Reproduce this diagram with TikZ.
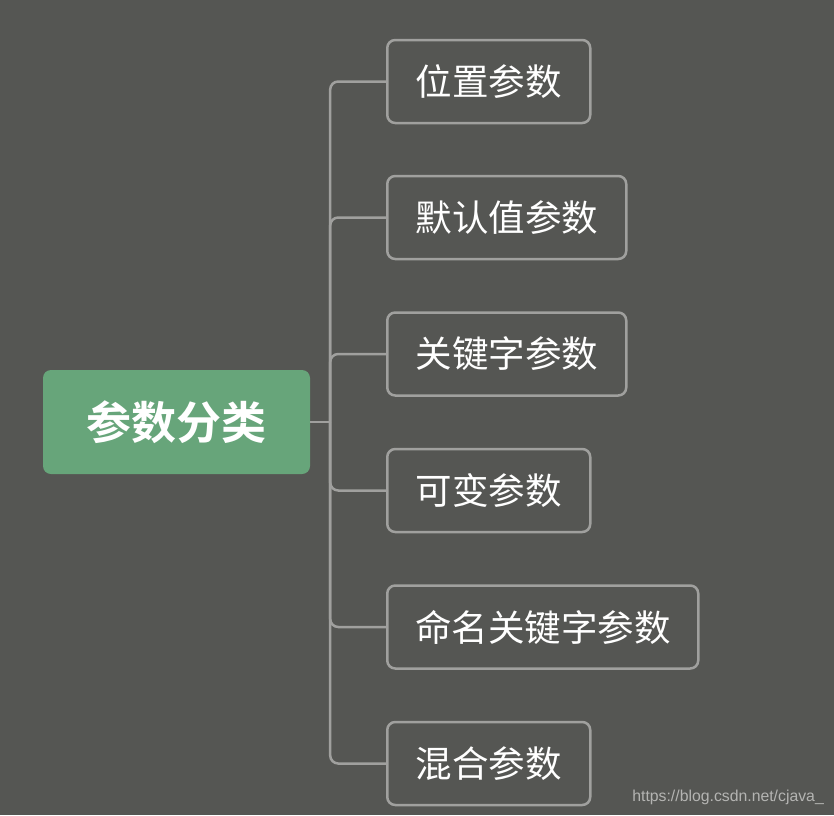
\documentclass[tikz,border=0pt]{standalone}
\usepackage{fontspec}
\setmainfont{Liberation Sans}
\newfontfamily\cjk{Noto Sans CJK SC}
\newfontfamily\cjkbold{Noto Sans CJK SC Bold}
\definecolor{bgc}{HTML}{555653}
\definecolor{rootc}{HTML}{67A57A}
\definecolor{linec}{HTML}{A0A09E}
\definecolor{wmc}{HTML}{B4B4B2}
\begin{document}
\begin{tikzpicture}[x=1pt,y=-1pt,
  rootbox/.style={fill=rootc, rounded corners=8pt, minimum width=267pt, minimum height=104pt, inner sep=0pt, text=white, font=\cjkbold\fontsize{45}{50}\selectfont},
  childbox/.style={draw=linec, line width=2.5pt, rounded corners=8pt, minimum height=83pt, inner sep=0pt, text=white, anchor=west, font=\cjk\fontsize{36.5}{40}\selectfont},
  conn/.style={draw=linec, line width=2.5pt, rounded corners=8pt}]
\fill[bgc] (0,0) rectangle (834,815);
\useasboundingbox (0,0) rectangle (834,815);
\node[rootbox] (root) at (176.5,422) {参数分类};
\node[childbox, minimum width=203pt] (c1) at (386,81.5) {位置参数};
\node[childbox, minimum width=239pt] (c2) at (386,217.5) {默认值参数};
\node[childbox, minimum width=239pt] (c3) at (386,354) {关键字参数};
\node[childbox, minimum width=203pt] (c4) at (386,490.5) {可变参数};
\node[childbox, minimum width=311pt] (c5) at (386,627) {命名关键字参数};
\node[childbox, minimum width=203pt] (c6) at (386,763.5) {混合参数};
\coordinate (j) at ([xshift=20pt]root.east);
\path[draw=linec, line width=2.5pt] (root.east) -- (j);
\foreach \c in {c1,c2,c3,c4,c5,c6}{
  \path[conn] (j) |- (\c.west);
}
\node[text=wmc, font=\fontsize{15.8}{18}\selectfont, anchor=east, inner sep=0pt] (wm) at (824,797) {https://blog.csdn.net/cjava\_};
\end{tikzpicture}
\end{document}
